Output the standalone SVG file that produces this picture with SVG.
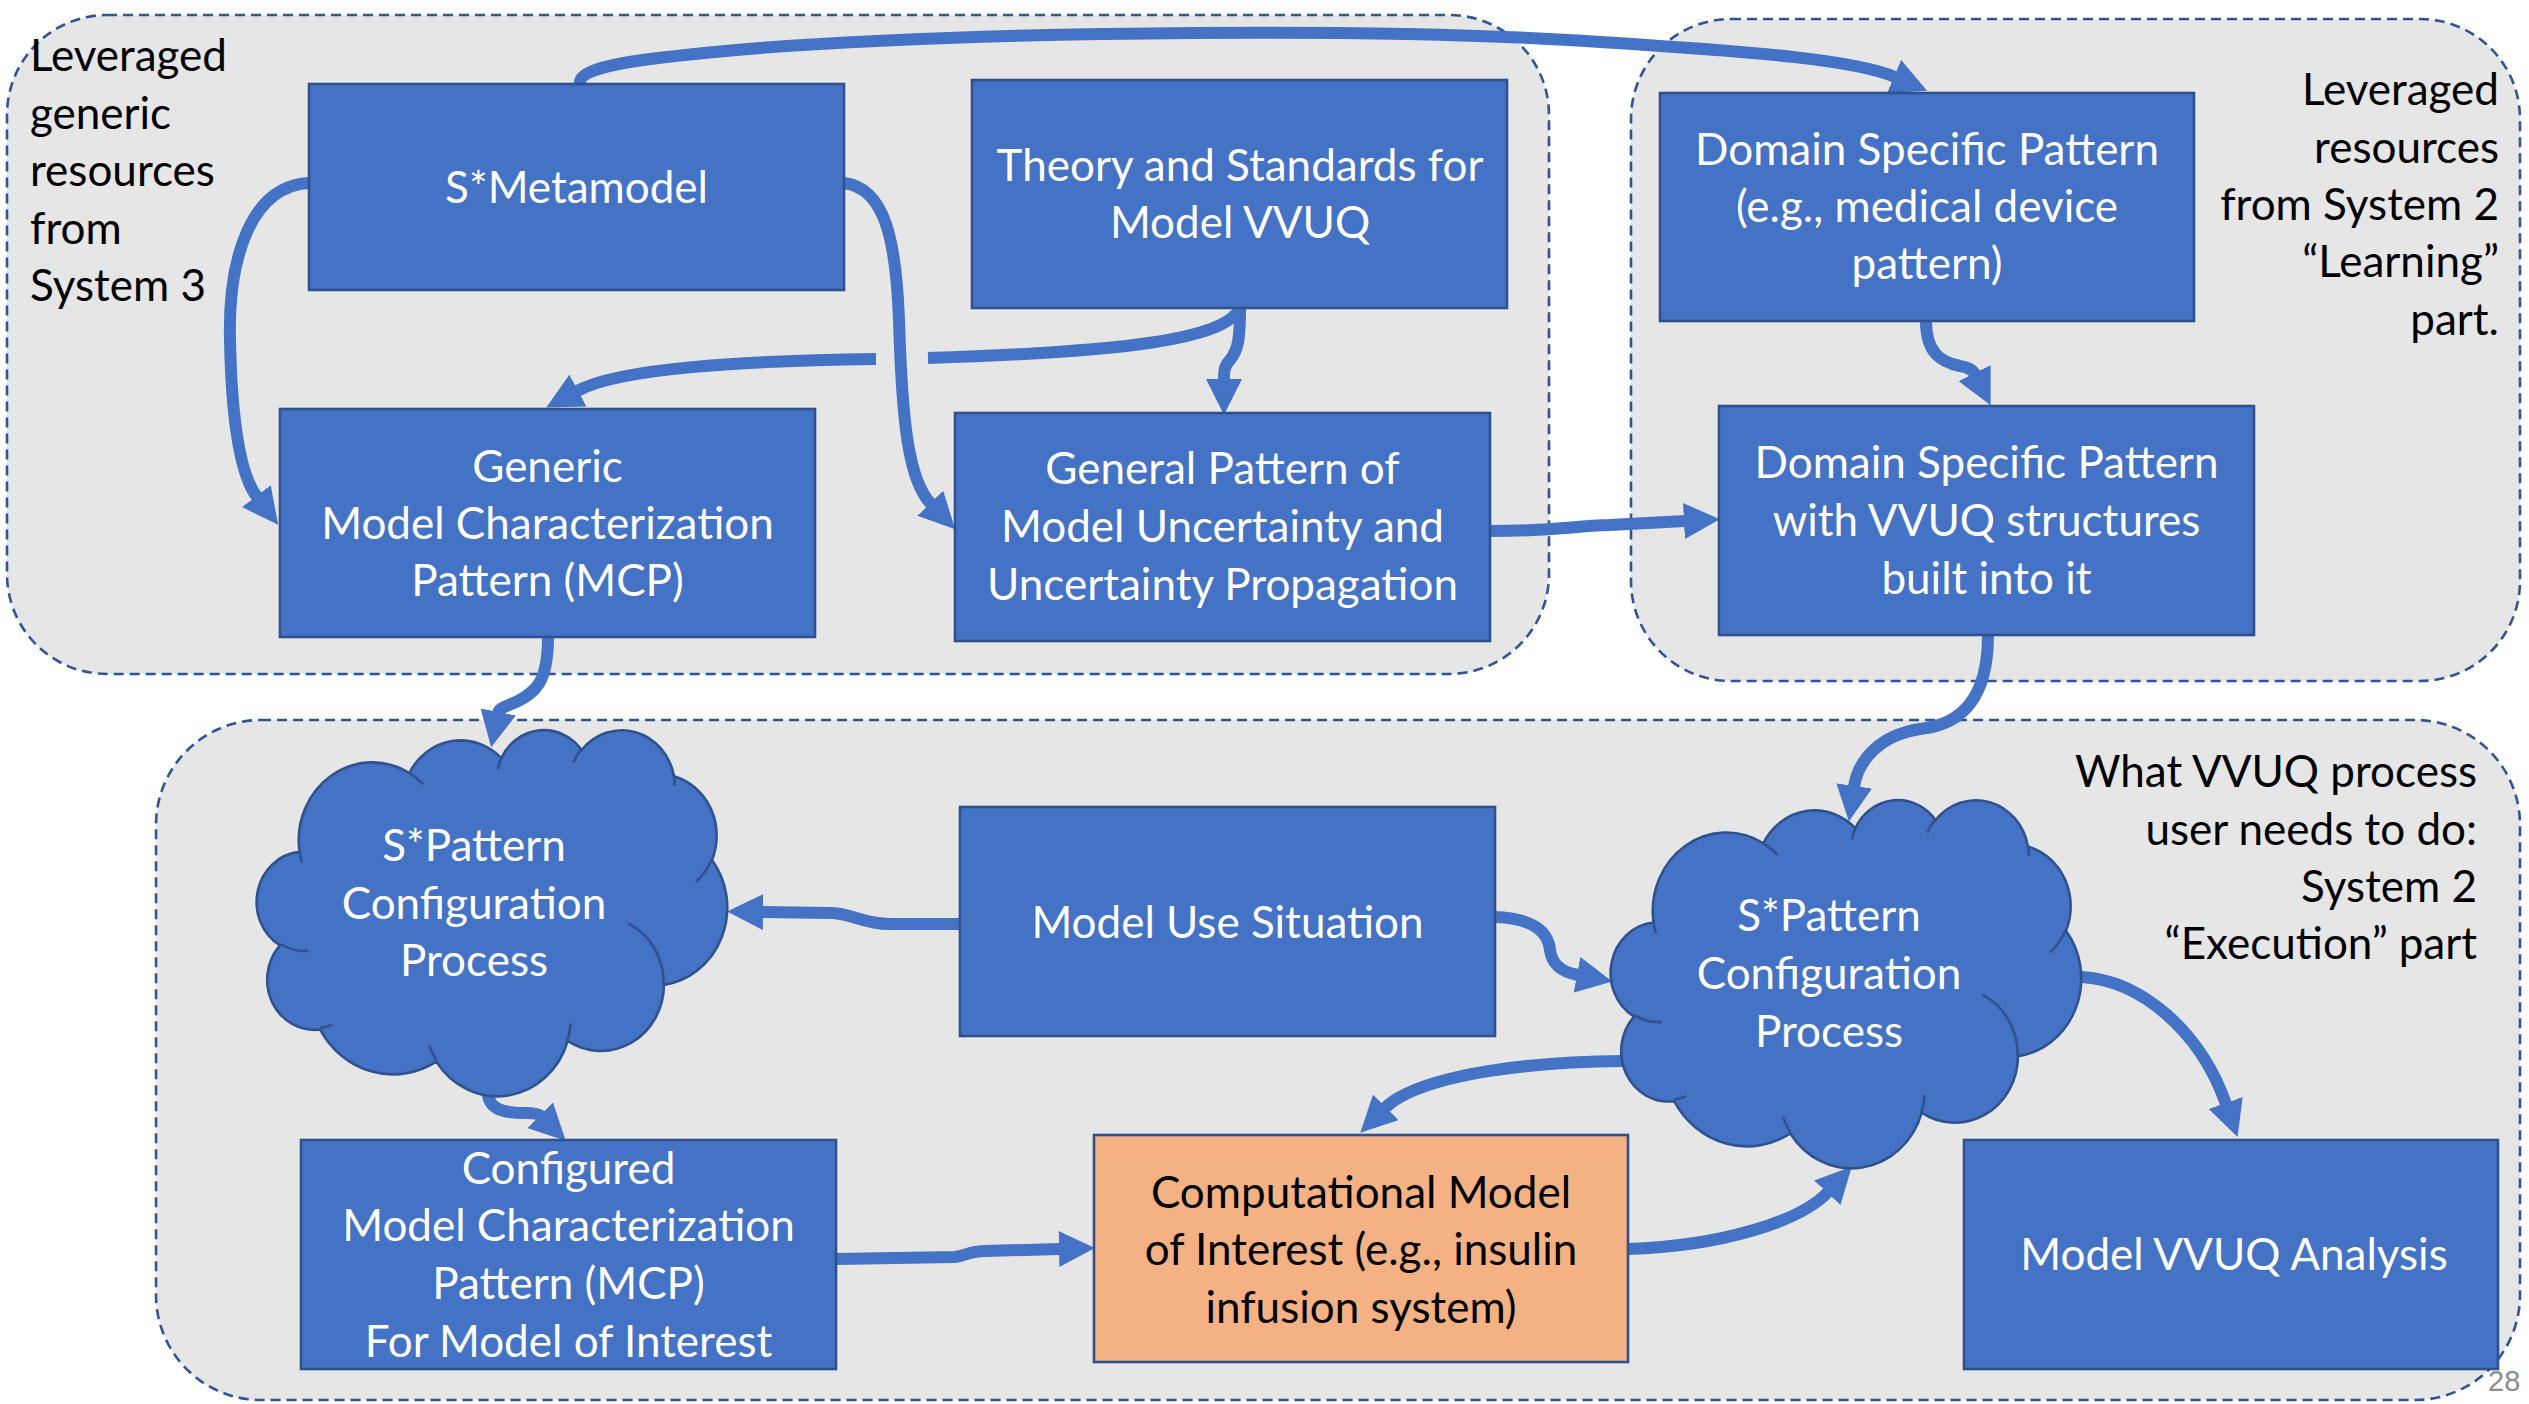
<svg xmlns="http://www.w3.org/2000/svg" xmlns:xlink="http://www.w3.org/1999/xlink" width="2529" height="1404" viewBox="0 0 2529 1404">
<style>
.grp{fill:#e7e6e6;stroke:#2f5597;stroke-width:2.6;stroke-dasharray:10 6}
.box{fill:#4472c4;stroke:#2f528f;stroke-width:2.6}
.obox{fill:#f4b183;stroke:#2f528f;stroke-width:2.6}
.cloud{fill:#4472c4;stroke:#2f528f;stroke-width:2.6}
.cdet{fill:none;stroke:#2f528f;stroke-width:2.6}
.con{fill:none;stroke:#4472c4;stroke-width:12;marker-end:url(#ah)}
.conn{fill:none;stroke:#4472c4;stroke-width:12}
.wt{font-family:Lato,"Liberation Sans",sans-serif;font-size:44px;fill:#ffffff;text-anchor:middle}
.bt{font-family:Lato,"Liberation Sans",sans-serif;font-size:44px;fill:#000000}
.btm{text-anchor:middle}
.bte{text-anchor:end}
</style>
<defs>
<marker id="ah" markerUnits="userSpaceOnUse" markerWidth="36" markerHeight="36" viewBox="0 0 34 34" refX="1" refY="17" orient="auto">
<path d="M0,0 L34,17 L0,34 Z" fill="#4472c4"/>
</marker>
<path id="cloudOutline" vector-effect="non-scaling-stroke" d="M3900,14370 A6753,9190 0 0,1 14005,5202 A5333,7267 0 0,1 22456,3429 A4365,5945 0 0,1 29832,2477 A4857,6595 0 0,1 38317,5572 A5333,7273 0 0,1 41818,15456 A6775,9220 0 0,1 37405,30200 A5785,7867 0 0,1 28556,36811 A6752,9215 0 0,1 16482,39264 A7720,10543 0 0,1 5807,35471 A4360,5918 0 0,1 2115,25549 A4345,5945 0 0,1 3865,14506 Z"/>
<path id="cloudDetail" vector-effect="non-scaling-stroke" d="M4693,26177 A4345,5945 0 0,1 2160,25380 M6928,34899 A4360,5918 0 0,1 5820,35280 M16478,39090 A6752,9215 0 0,1 15809,37348 M28827,34751 A6752,9215 0 0,1 28560,36660 M34129,22954 A5785,7867 0 0,1 37380,30090 M41798,15354 A5333,7273 0 0,1 40350,18030 M38324,5426 A4857,6595 0 0,1 38401,6690 M29078,3952 A4857,6595 0 0,1 29820,2341 M22141,4720 A4365,5945 0 0,1 22500,3331 M14000,5192 A6753,9190 0 0,1 15299,6539 M4127,15789 A6753,9190 0 0,1 3900,14371"/>
</defs>

<g id="groups">
<rect id="group-system3" class="grp" x="7" y="15" width="1542" height="659" rx="100" ry="100"/>
<rect id="group-learning" class="grp" x="1631" y="19" width="889" height="662" rx="100" ry="100"/>
<rect id="group-execution" class="grp" x="156" y="720" width="2364" height="680" rx="105" ry="105"/>
</g>

<g id="labels">
<text class="bt"><tspan x="30" y="71">Leveraged</tspan><tspan x="30" y="128.5">generic</tspan><tspan x="30" y="186">resources</tspan><tspan x="30" y="243.5">from</tspan><tspan x="30" y="301">System 3</tspan></text>
<text class="bt bte"><tspan x="2499" y="105">Leveraged</tspan><tspan x="2499" y="163">resources</tspan><tspan x="2499" y="220">from System 2</tspan><tspan x="2499" y="277">“Learning”</tspan><tspan x="2499" y="335">part.</tspan></text>
<text class="bt bte"><tspan x="2477" y="787">What VVUQ process</tspan><tspan x="2477" y="845">user needs to do:</tspan><tspan x="2477" y="902">System 2</tspan><tspan x="2477" y="959">“Execution” part</tspan></text>
<text x="2488" y="1391" font-family="'Liberation Sans',sans-serif" font-size="29" fill="#8c8c8c">28</text>
</g>

<g id="connectors">
<path id="c-meta-domain" class="con" d="M580,84 C577,66 640,58 760,48 C1000,30 1400,28 1600,42 C1760,52 1855,60 1895,77"/>
<path id="c-meta-generic" class="con" d="M309,183 C250,186 228,260 230,340 C232,440 244,480 257,497"/>
<path id="c-meta-general" class="con" d="M844,183 C885,188 896,240 899,320 C902,420 908,480 931,504"/>
<path id="c-theory-general" class="con" d="M1240,308 C1240,340 1238,350 1230,360 C1224,366 1224,372 1224,380"/>
<path id="c-theory-generic" class="con" d="M1240,308 C1225,340 1120,352 928,358 M876,359 C740,361 620,368 577,391"/>
<path id="c-general-domainvvuq" class="con" d="M1490,531 C1560,531 1570,526 1610,525 L1685,521"/>
<path id="c-domain-domainvvuq" class="con" d="M1926,321 C1926,352 1940,362 1960,366 Q1972,368 1975,374"/>
<path id="c-domainvvuq-cloud2" class="con" d="M1988,635 C1988,700 1960,725 1920,729 C1880,735 1858,760 1854,787"/>
<path id="c-generic-cloud1" class="con" d="M548,637 C548,683 535,692 518,701 C505,707 499,708 498,713"/>
<path id="c-use-cloud1" class="con" d="M960,924 L890,924 C862,924 852,913 830,913 L762,912"/>
<path id="c-use-cloud2" class="con" d="M1495,917 C1530,918 1548,930 1550,950 C1552,965 1562,972 1578,975"/>
<path id="c-cloud1-configured" class="con" d="M488,1095 C490,1110 505,1113 525,1113 C535,1113 539,1114 541,1116"/>
<path id="c-configured-comp" class="con" d="M836,1259 L955,1257 C965,1256 970,1251 985,1251 L1060,1249"/>
<path id="c-cloud2-comp" class="con" d="M1624,1061 C1520,1062 1440,1075 1400,1097 C1393,1101 1389,1104 1385,1108"/>
<path id="c-comp-cloud2" class="con" d="M1628,1249 C1720,1246 1800,1222 1828,1192"/>
<path id="c-cloud2-analysis" class="con" d="M2081,977 C2140,980 2200,1030 2226,1104"/>
</g>

<g id="n-metamodel">
<rect class="box" x="309" y="84" width="535" height="206"/>
<text class="wt" x="576.5" y="203">S*Metamodel</text>
</g>
<g id="n-theory">
<rect class="box" x="972" y="80" width="535" height="228"/>
<text class="wt"><tspan x="1240" y="181">Theory and Standards for</tspan><tspan x="1240" y="237.5">Model VVUQ</tspan></text>
</g>
<g id="n-generic-mcp">
<rect class="box" x="280" y="409" width="535" height="228"/>
<text class="wt"><tspan x="547.5" y="482">Generic</tspan><tspan x="547.5" y="539">Model Characterization</tspan><tspan x="547.5" y="596">Pattern (MCP)</tspan></text>
</g>
<g id="n-general-pattern">
<rect class="box" x="955" y="413" width="535" height="228"/>
<text class="wt"><tspan x="1222.5" y="484">General Pattern of</tspan><tspan x="1222.5" y="542">Model Uncertainty and</tspan><tspan x="1222.5" y="600">Uncertainty Propagation</tspan></text>
</g>
<g id="n-domain-pattern">
<rect class="box" x="1660" y="93" width="534" height="228"/>
<text class="wt"><tspan x="1927" y="165">Domain Specific Pattern</tspan><tspan x="1927" y="222">(e.g., medical device</tspan><tspan x="1927" y="279">pattern)</tspan></text>
</g>
<g id="n-domain-vvuq">
<rect class="box" x="1719" y="406" width="535" height="229"/>
<text class="wt"><tspan x="1986.5" y="478">Domain Specific Pattern</tspan><tspan x="1986.5" y="536">with VVUQ structures</tspan><tspan x="1986.5" y="594">built into it</tspan></text>
</g>
<g id="n-cloud1">
<use href="#cloudOutline" xlink:href="#cloudOutline" class="cloud" transform="translate(257,729) scale(0.010880,0.008472)"/>
<use href="#cloudDetail" xlink:href="#cloudDetail" class="cdet" transform="translate(257,729) scale(0.010880,0.008472)"/>
<text class="wt"><tspan x="474" y="861">S*Pattern</tspan><tspan x="474" y="918.5">Configuration</tspan><tspan x="474" y="976">Process</tspan></text>
</g>
<g id="n-use-situation">
<rect class="box" x="960" y="807" width="535" height="229"/>
<text class="wt" x="1227.5" y="938">Model Use Situation</text>
</g>
<g id="n-cloud2">
<use href="#cloudOutline" xlink:href="#cloudOutline" class="cloud" transform="translate(1611,799) scale(0.010880,0.008519)"/>
<use href="#cloudDetail" xlink:href="#cloudDetail" class="cdet" transform="translate(1611,799) scale(0.010880,0.008519)"/>
<text class="wt"><tspan x="1829" y="931">S*Pattern</tspan><tspan x="1829" y="989">Configuration</tspan><tspan x="1829" y="1047">Process</tspan></text>
</g>
<g id="n-configured-mcp">
<rect class="box" x="301" y="1140" width="535" height="229"/>
<text class="wt"><tspan x="568.5" y="1184">Configured</tspan><tspan x="568.5" y="1241">Model Characterization</tspan><tspan x="568.5" y="1299">Pattern (MCP)</tspan><tspan x="568.5" y="1357">For Model of Interest</tspan></text>
</g>
<g id="n-computational">
<rect class="obox" x="1094" y="1135" width="534" height="227"/>
<text class="bt btm"><tspan x="1361" y="1208">Computational Model</tspan><tspan x="1361" y="1265">of Interest (e.g., insulin</tspan><tspan x="1361" y="1323">infusion system)</tspan></text>
</g>
<g id="n-vvuq-analysis">
<rect class="box" x="1964" y="1140" width="534" height="229"/>
<text class="wt" x="2234" y="1270">Model VVUQ Analysis</text>
</g>
</svg>
